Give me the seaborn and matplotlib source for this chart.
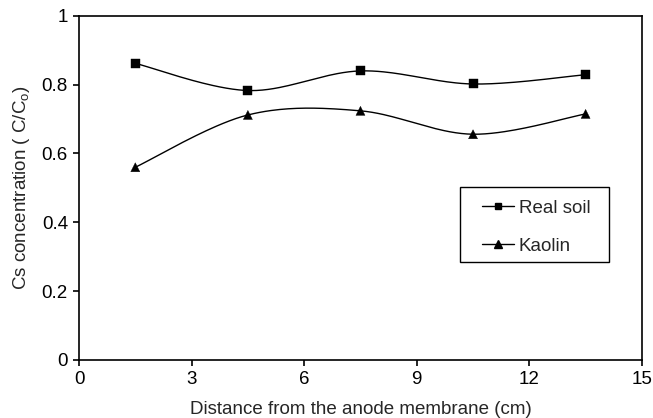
import numpy as np
import pandas as pd
import matplotlib
matplotlib.use("Agg")
import matplotlib.pyplot as plt
import seaborn as sns
from matplotlib.lines import Line2D
from matplotlib.patches import Rectangle

distance = [1.5, 4.5, 7.5, 10.5, 13.5]
real_soil = [0.862, 0.783, 0.840, 0.802, 0.829]
kaolin = [0.560, 0.712, 0.724, 0.656, 0.715]
x_ticks = [0, 3, 6, 9, 12, 15]
y_ticks = [0, 0.2, 0.4, 0.6, 0.8, 1.0]
y_tick_labels = ["0", "0.2", "0.4", "0.6", "0.8", "1"]

sns.set_style("ticks")
plt.rcParams['font.family'] = ['Liberation Sans', 'DejaVu Sans']
plt.rcParams['mathtext.fontset'] = 'custom'
plt.rcParams['mathtext.rm'] = 'Liberation Sans'
plt.rcParams['mathtext.it'] = 'Liberation Sans'


def smooth(xs, ys, n=40):
    # Excel-style smoothed line: cubic Bezier with Catmull-Rom control points
    xs = np.asarray(xs, float); ys = np.asarray(ys, float)
    px = np.concatenate([[xs[0]], xs, [xs[-1]]])
    py = np.concatenate([[ys[0]], ys, [ys[-1]]])
    outx, outy = [], []
    t = np.linspace(0, 1, n)
    for i in range(1, len(px) - 2):
        p0 = np.array([px[i], py[i]]); p3 = np.array([px[i + 1], py[i + 1]])
        c1 = p0 + (np.array([px[i + 1], py[i + 1]]) - np.array([px[i - 1], py[i - 1]])) / 6
        c2 = p3 - (np.array([px[i + 2], py[i + 2]]) - np.array([px[i], py[i]])) / 6
        b = ((1 - t)[:, None] ** 3 * p0 + 3 * ((1 - t) ** 2 * t)[:, None] * c1
             + 3 * ((1 - t) * t ** 2)[:, None] * c2 + (t ** 3)[:, None] * p3)
        outx.extend(b[:, 0]); outy.extend(b[:, 1])
    return np.array(outx), np.array(outy)


fig = plt.figure(figsize=(6.53, 4.18), dpi=100)
ax = fig.add_axes([0.121, 0.139, 0.862, 0.823])

df = pd.DataFrame({
    "distance": distance * 2,
    "conc": real_soil + kaolin,
    "series": ["Real soil"] * 5 + ["Kaolin"] * 5,
})

for name, vals in [("Real soil", real_soil), ("Kaolin", kaolin)]:
    sx, sy = smooth(distance, vals)
    ax.plot(sx, sy, color="black", lw=1.0, zorder=2)

sns.scatterplot(data=df, x="distance", y="conc", style="series",
                markers={"Real soil": "s", "Kaolin": "^"}, color="black",
                s=42, edgecolor="black", linewidth=0.3, legend=False, ax=ax, zorder=3)

ax.set_xlim(0, 15)
ax.set_ylim(0, 1)
ax.set_xticks(x_ticks)
ax.set_xticklabels([str(v) for v in x_ticks])
ax.set_yticks(y_ticks)
ax.set_yticklabels(y_tick_labels)
ax.tick_params(axis="both", direction="out", length=4, width=1.2, labelsize=13.5,
               colors="black", pad=4)
for sp in ["top", "right", "left", "bottom"]:
    ax.spines[sp].set_visible(True)
    ax.spines[sp].set_linewidth(1.2)
    ax.spines[sp].set_color("black")

ax.set_xlabel("Distance from the anode membrane (cm)", fontsize=13.5, labelpad=9)
ax.set_ylabel(r"Cs concentration ( C/C$_{\rm o}$)", fontsize=13.5, labelpad=7)

# legend frame
ax.add_patch(Rectangle((0.677, 0.285), 0.264, 0.218, transform=ax.transAxes,
                       facecolor="white", edgecolor="black", lw=1.0, zorder=4))
handles = [
    Line2D([0], [0], color="black", lw=1.0, marker="s", markersize=5),
    Line2D([0], [0], color="black", lw=1.0, marker="^", markersize=5.5),
]
leg = ax.legend(handles, ["Real soil", "Kaolin"], loc="upper left",
                bbox_to_anchor=(0.716, 0.466), frameon=False,
                fontsize=13.5, handlelength=1.7,
                handletextpad=0.25, labelspacing=1.12, borderpad=0,
                borderaxespad=0)
leg.set_zorder(5)

fig.savefig("out.png", dpi=100)
